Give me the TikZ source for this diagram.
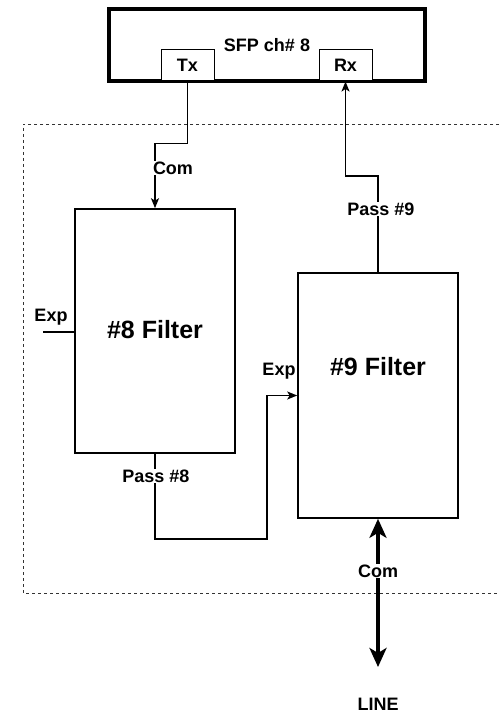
\documentclass[tikz,border=0pt]{standalone}
\usepackage{fontspec}
\setmainfont{Liberation Sans}
\usetikzlibrary{arrows.meta}

\begin{document}
\begin{tikzpicture}[
    x=1pt, y=-1pt,
    >={Stealth[length=10pt, width=8pt, inset=2.5pt]},
    every node/.style={font=\bfseries\fontsize{18}{20}\selectfont},
    sfpbox/.style={draw, line width=3.5pt, inner sep=0pt,
                   minimum width=316pt, minimum height=72pt},
    port/.style  ={draw, line width=1pt, inner sep=0pt, fill=white,
                   minimum width=53pt, minimum height=31pt},
    filt/.style  ={draw, line width=1.6pt, inner sep=0pt,
                   minimum width=160pt, minimum height=244pt},
    big/.style   ={font=\bfseries\fontsize{25}{28}\selectfont},
    tag/.style   ={fill=white, inner sep=1pt},
    flow/.style  ={->, line width=1.6pt},
    trunk/.style ={{Stealth[length=19pt, width=17pt, inset=5pt]}-{Stealth[length=19pt, width=17pt, inset=5pt]},
                   line width=3.5pt},
    zone/.style  ={dash pattern=on 3pt off 3pt, line width=0.9pt, black!80},
]
\useasboundingbox (0,0) rectangle (499,714);

% dashed enclosure, open to the right
\draw[zone] (499,124) -| (23,593) -- (499,593);

\node[sfpbox] (sfp) at (267,45) {SFP ch\# 8};
\node[port] (tx) at (187.5,65.5) {Tx};
\node[port] (rx) at (345.5,65.5) {Rx};

\node[filt] (f8) at (155,331) {};
\node[big]  (f8lbl) at (155,330) {\#8 Filter};
\node[filt, minimum height=245pt] (f9) at (378,395.5) {};
\node[big]  (f9lbl) at (378,367) {\#9 Filter};

\coordinate (expin)   at (43,332);
\coordinate (bend8)   at (267,539);
\coordinate (lineend) at (378,667);

\draw[flow] (tx.south) -- ++(0,62) -| (f8.north);
\node[tag] (com1) at (173,168) {Com};

\draw[line width=1.6pt] (expin) -- (expin -| f8.west);
\node (exp1) at (51,317) {Exp};

\draw[flow] (f8.south) |- (bend8) |- (f9.west);
\node[tag] (pass8) at (156,476) {Pass \#8};
\node (exp2) at (279,371) {Exp};

\draw[flow] (f9.north) -- ++(0,-96) -| (rx.south);
\node[tag] (pass9) at (381,209) {Pass \#9};

\draw[trunk] (lineend) -- (f9.south);
\node[tag] (com2) at (378,571) {Com};
\node (linelbl) at (378,704) {LINE};
\end{tikzpicture}
\end{document}
